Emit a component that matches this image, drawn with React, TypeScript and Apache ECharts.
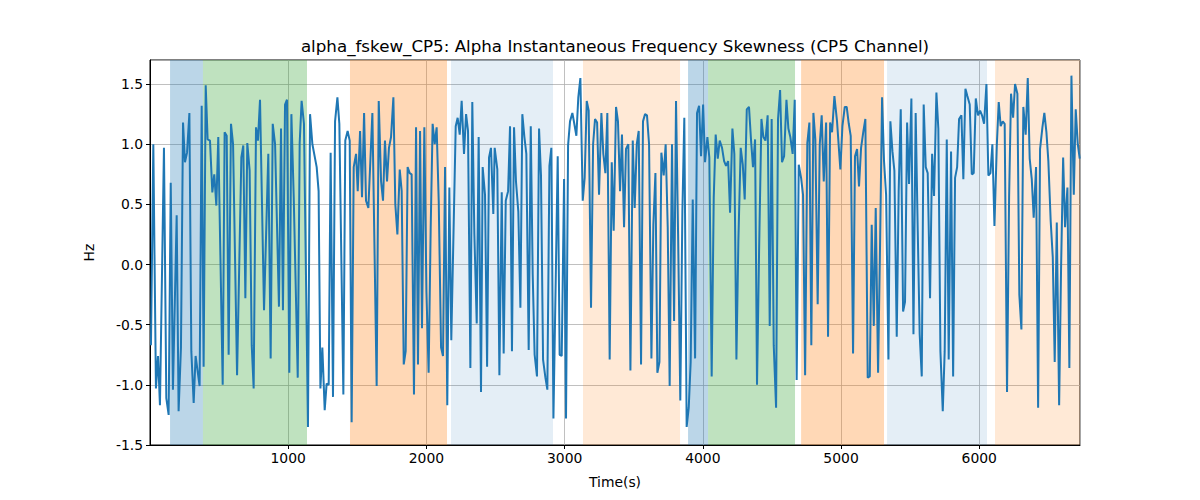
import { useEffect, useRef } from 'react';
import * as echarts from 'echarts';

const TITLE = 'alpha_fskew_CP5: Alpha Instantaneous Frequency Skewness (CP5 Channel)';

// time in seconds
const times = [
  7, 24, 43, 58, 72, 101, 118, 135, 150, 166, 193, 207, 224, 239, 253, 268, 285, 299, 316, 330,
  359, 374, 388, 403, 417, 434, 451, 465, 480, 494, 526, 540, 555, 569, 586, 601, 630, 661, 675, 690,
  704, 721, 736, 750, 767, 781, 796, 825, 856, 873, 888, 905, 933, 948, 962, 977, 991, 1008, 1023, 1040,
  1069, 1083, 1097, 1114, 1143, 1158, 1175, 1206, 1220, 1233, 1247, 1264, 1278, 1293, 1307, 1324, 1339, 1356, 1370, 1399,
  1413, 1430, 1445, 1459, 1474, 1491, 1503, 1520, 1534, 1549, 1563, 1580, 1609, 1640, 1655, 1672, 1686, 1700, 1715, 1729,
  1744, 1761, 1775, 1790, 1807, 1821, 1836, 1850, 1864, 1879, 1893, 1910, 1925, 1939, 1954, 1968, 1985, 2000, 2016, 2031,
  2045, 2060, 2074, 2089, 2106, 2120, 2135, 2151, 2166, 2180, 2212, 2226, 2241, 2255, 2272, 2287, 2301, 2318, 2332, 2347,
  2364, 2378, 2395, 2407, 2424, 2439, 2453, 2467, 2484, 2494, 2513, 2528, 2545, 2559, 2574, 2591, 2605, 2619, 2634, 2648,
  2665, 2680, 2694, 2709, 2723, 2740, 2755, 2769, 2783, 2800, 2815, 2829, 2844, 2861, 2875, 2890, 2904, 2919, 2935, 2950,
  2964, 2979, 2996, 3010, 3025, 3039, 3056, 3070, 3085, 3099, 3114, 3131, 3145, 3160, 3174, 3191, 3206, 3220, 3235, 3249,
  3266, 3280, 3295, 3309, 3326, 3341, 3355, 3372, 3386, 3401, 3415, 3430, 3444, 3461, 3476, 3493, 3507, 3522, 3536, 3553,
  3567, 3582, 3596, 3611, 3628, 3642, 3657, 3671, 3686, 3700, 3717, 3731, 3746, 3760, 3777, 3792, 3806, 3821, 3837, 3852,
  3866, 3883, 3898, 3912, 3927, 3944, 3958, 3973, 3987, 4002, 4016, 4033, 4047, 4064, 4079, 4093, 4108, 4122, 4139, 4154,
  4168, 4183, 4197, 4214, 4228, 4243, 4257, 4274, 4289, 4303, 4318, 4334, 4349, 4363, 4378, 4392, 4407, 4424, 4438, 4453,
  4469, 4484, 4498, 4513, 4530, 4544, 4559, 4573, 4588, 4605, 4619, 4633, 4650, 4665, 4679, 4694, 4711, 4725, 4740, 4756,
  4771, 4785, 4800, 4814, 4831, 4846, 4860, 4875, 4892, 4906, 4921, 4935, 4952, 4971, 4995, 5010, 5027, 5041, 5056, 5070,
  5087, 5101, 5116, 5130, 5145, 5162, 5176, 5193, 5208, 5222, 5237, 5251, 5268, 5282, 5297, 5311, 5326, 5343, 5357, 5372,
  5386, 5403, 5417, 5432, 5449, 5463, 5478, 5492, 5509, 5524, 5540, 5555, 5569, 5584, 5598, 5613, 5627, 5644, 5659, 5673,
  5690, 5704, 5719, 5736, 5750, 5765, 5779, 5796, 5811, 5825, 5840, 5854, 5871, 5885, 5900, 5914, 5931, 5946, 5960, 5975,
  5991, 6006, 6020, 6035, 6052, 6066, 6081, 6095, 6110, 6127, 6141, 6155, 6170, 6184, 6201, 6216, 6230, 6245, 6259, 6276,
  6290, 6305, 6319, 6336, 6351, 6365, 6380, 6394, 6411, 6426, 6440, 6457, 6471, 6486, 6500, 6517, 6532, 6546, 6561, 6578,
  6592, 6607, 6621, 6638, 6652, 6667, 6684, 6698, 6713, 6727,
];

// skewness in Hz
const values = [
  -0.67, 1.0, -1.03, -0.76, -1.17, 0.97, -1.11, -1.25, 0.68, -1.04, 0.41, -1.22, -0.69, 1.18, 0.85, 0.93, 1.26, -0.72, -1.15, -0.76,
  -1.01, 1.32, -0.85, 1.49, 1.04, 1.03, 0.6, 0.75, 0.49, 1.06, -1.0, 1.1, 1.07, -0.75, 1.17, 1.0, -0.92, 0.89, 0.99, -0.28,
  1.01, 0.78, -0.67, -1.03, 1.14, 1.03, 1.37, -0.38, 0.92, -0.78, 1.17, 1.0, -0.35, 1.13, -0.38, 1.33, 1.37, -0.9, 1.25, 0.56,
  -0.94, 1.01, 1.36, 1.17, -1.35, 1.25, 1.0, 0.81, 0.61, -1.03, -0.69, -1.21, -0.99, -1.0, 0.93, -1.1, 1.19, 1.39, 1.17, -1.08,
  1.03, 1.11, 1.03, -1.31, 0.81, 0.92, 0.61, 1.11, 0.56, 1.26, 0.53, 0.47, 1.26, -1.01, 1.36, 0.69, 0.53, 1.03, 0.69, 0.97,
  1.06, 1.39, 0.5, 0.25, 0.79, 0.61, -0.83, -0.72, 0.81, 0.76, 0.75, -1.08, 1.14, -0.83, 1.11, -0.53, 1.14, -0.22, -0.9, 0.31,
  1.17, 1.0, 1.14, 0.53, -0.69, -0.76, 0.81, -1.17, 0.64, -0.63, 1.15, 1.22, 1.08, 1.36, 0.92, 1.25, 1.11, -0.86, 1.35, 0.25,
  -0.49, 1.06, -1.06, 0.81, 0.58, -0.85, 0.89, 0.97, 0.42, 0.97, 0.79, -0.92, 0.6, -0.74, 0.53, 0.61, 1.15, -0.72, 1.14, 0.69,
  0.44, -0.36, 1.25, 1.06, 0.92, -0.71, 1.15, -0.08, -0.75, -0.93, 1.13, 0.74, -0.79, -0.94, -1.04, 0.82, 0.97, -1.28, -0.17, 0.9,
  -0.75, -0.76, 0.71, -1.28, 0.99, 1.19, 1.26, 1.17, 1.07, 1.39, 1.55, 0.53, 0.72, 1.36, 1.28, -0.36, 1.0, 1.21, 1.18, 0.58,
  1.26, 0.92, 0.76, 1.26, -0.79, 0.85, 0.28, 1.31, 1.19, 0.61, 1.08, 0.31, 0.96, 1.0, -0.88, 1.03, 0.47, 1.0, 1.11, -0.83,
  1.19, 1.25, 1.24, 1.0, -0.78, 0.33, 0.76, -0.9, -0.81, 0.93, 0.74, 1.0, 0.31, -1.01, 1.0, -0.47, 1.36, 0.25, -1.13, 0.44,
  1.22, -1.35, -1.19, -0.81, 0.54, -0.78, 1.26, 1.32, 0.9, 1.33, 0.85, 1.06, 0.89, -0.93, 0.56, 1.08, 0.88, 1.03, 0.97, 0.86,
  0.82, 0.86, 0.43, 1.13, 0.92, -0.79, 0.19, 0.97, 0.83, 0.54, 1.29, 1.31, 1.03, 0.81, 1.04, -1.0, 0.11, 1.21, 1.06, 1.03,
  1.24, -0.51, 1.21, -0.67, -1.19, 1.21, 1.45, 0.85, 0.9, 1.37, 1.13, 1.06, 0.92, 1.37, -0.96, 0.83, 0.72, 0.58, -0.92, 1.01,
  1.18, -0.67, 1.26, 1.04, -0.33, 1.0, 1.24, 0.69, 1.18, -0.6, 1.18, 1.1, 1.4, 1.19, 0.79, 1.15, 1.31, 1.31, 1.17, 1.07,
  -0.74, 0.9, 0.96, 0.65, 0.97, 1.11, 1.21, -0.94, -0.93, 0.33, -0.51, 0.47, -0.9, 0.14, 1.39, 0.86, 0.58, -0.79, 1.19, 0.94,
  0.78, -0.6, 0.61, 1.29, -0.39, -0.31, 1.18, 0.67, 1.38, -0.58, 1.26, 0.28, -0.58, -0.93, 1.33, 0.81, 0.76, -0.28, 0.92, 0.57,
  1.43, 1.13, -0.72, -1.22, -0.72, 1.04, -0.79, 0.94, -0.93, 0.72, 0.81, 1.21, 1.24, 0.71, 1.46, 1.4, 1.33, 0.75, 0.76, 1.38,
  1.24, 1.28, 1.24, 1.17, 1.5, 0.74, 0.76, 1.0, 0.32, 0.99, 1.35, 1.15, 1.19, 1.17, -1.06, 0.56, 1.42, 1.22, 1.5, 1.42,
  -0.25, -0.54, 1.31, 1.08, 1.55, 0.88, 0.71, 0.39, 0.81, -1.19, 0.96, 1.14, 1.26, 1.1, 0.86, 0.36, 0.06, -0.81, 0.35, -1.17,
  -0.03, 0.89, 0.31, 0.64, -0.86, 1.57, 0.58, 1.29, 1.0, 0.88,
];

// shaded segments
const spanStarts = [145, 383, 1447, 2178, 3133, 3893, 4038, 4711, 5333, 6114];
const spanEnds = [383, 1136, 2149, 2916, 3835, 4038, 4667, 5311, 6056, 6729];
const spanColors = [
  'rgba(31,119,180,0.3)',
  'rgba(44,160,44,0.3)',
  'rgba(255,127,14,0.3)',
  'rgba(31,119,180,0.12)',
  'rgba(255,127,14,0.17)',
  'rgba(31,119,180,0.3)',
  'rgba(44,160,44,0.3)',
  'rgba(255,127,14,0.3)',
  'rgba(31,119,180,0.12)',
  'rgba(255,127,14,0.17)',
];

const X_MIN = 0;
const X_MAX = 6729;

const FONT = 'DejaVu Sans';

export default function App() {
  const chartRef = useRef<HTMLDivElement>(null);

  useEffect(() => {
    if (!chartRef.current) return;
    const chart = echarts.init(chartRef.current, undefined, { renderer: 'svg' });

    const option: echarts.EChartsOption = {
      animation: false,
      backgroundColor: '#fff',
      grid: {
        left: 150,
        right: 120,
        top: 60,
        bottom: 55,
        show: true,
        borderColor: '#000',
        borderWidth: 1,
        backgroundColor: 'transparent',
      },
      graphic: [
        {
          type: 'text',
          x: 615,
          y: 46,
          style: {
            text: TITLE,
            fill: '#000',
            font: `16.7px "${FONT}"`,
            textAlign: 'center',
            textVerticalAlign: 'middle',
          },
        },
      ],
      xAxis: {
        type: 'value',
        min: X_MIN,
        max: X_MAX,
        interval: 1000,
        name: 'Time(s)',
        nameLocation: 'middle',
        nameGap: 30,
        nameTextStyle: { color: '#000', fontFamily: FONT, fontSize: 13.9 },
        axisLine: { show: true, onZero: false, lineStyle: { color: '#000', width: 1 } },
        axisTick: { show: true, length: 4, lineStyle: { color: '#000' } },
        axisLabel: {
          color: '#000',
          fontFamily: FONT,
          fontSize: 13.9,
          margin: 6,
          showMinLabel: false,
          showMaxLabel: false,
          formatter: (v: number) => String(v),
        },
        splitLine: { show: true, lineStyle: { color: '#b0b0b0', width: 0.8 } },
      },
      yAxis: {
        type: 'value',
        min: -1.5,
        max: 1.7,
        interval: 0.5,
        name: 'Hz',
        nameLocation: 'middle',
        nameGap: 54,
        nameTextStyle: { color: '#000', fontFamily: FONT, fontSize: 13.9 },
        axisLine: { show: true, onZero: false, lineStyle: { color: '#000', width: 1 } },
        axisTick: { show: true, length: 4, lineStyle: { color: '#000' } },
        axisLabel: {
          color: '#000',
          fontFamily: FONT,
          fontSize: 13.9,
          margin: 7,
          showMaxLabel: false,
          formatter: (v: number) => v.toFixed(1),
        },
        splitLine: { show: true, lineStyle: { color: '#b0b0b0', width: 0.8 } },
      },
      series: [
        {
          type: 'line',
          data: times.map((t, i) => [t, values[i]]),
          showSymbol: false,
          symbol: 'none',
          lineStyle: { color: '#1f77b4', width: 2 },
          z: 3,
          markArea: {
            silent: true,
            data: spanStarts.map((s, i) => [
              { xAxis: s, itemStyle: { color: spanColors[i] } },
              { xAxis: spanEnds[i] },
            ]) as any,
          },
        },
      ],
    };

    chart.setOption(option);
    return () => {
      chart.dispose();
    };
  }, []);

  return (
    <div
      ref={chartRef}
      style={{ position: 'fixed', left: 0, top: 0, width: 1200, height: 500 }}
    />
  );
}
